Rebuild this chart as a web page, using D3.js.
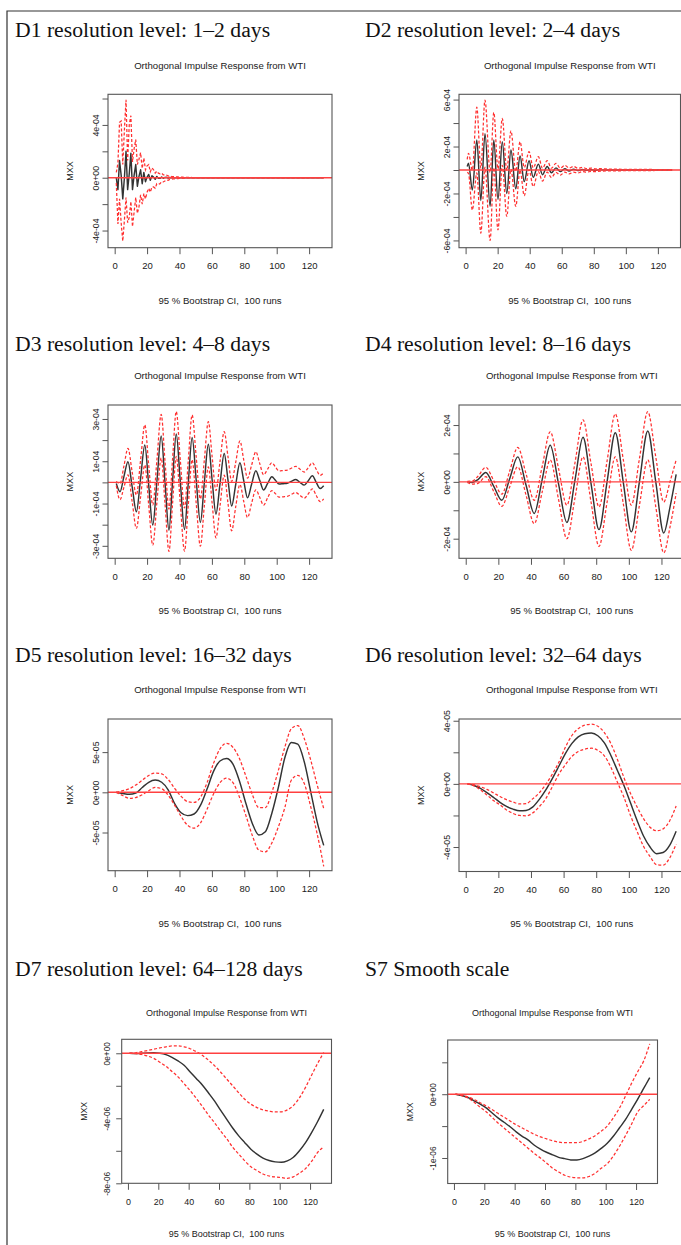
<!DOCTYPE html>
<html>
<head>
<meta charset="utf-8">
<script src="https://cdn.jsdelivr.net/npm/d3@7"></script>
<style>
  html, body { margin: 0; padding: 0; background: #fff; }
  svg { display: block; }
</style>
</head>
<body>
<svg id="chart" width="681" height="1245"></svg>
<script>
// ---------------- shared texts / ticks ----------------
const panelTitles = [
  "D1 resolution level: 1\u20132 days",
  "D2 resolution level: 2\u20134 days",
  "D3 resolution level: 4\u20138 days",
  "D4 resolution level: 8\u201316 days",
  "D5 resolution level: 16\u201332 days",
  "D6 resolution level: 32\u201364 days",
  "D7 resolution level: 64\u2013128 days",
  "S7 Smooth scale"
];
const subTitle = "Orthogonal Impulse Response from WTI";
const captionText = "95 % Bootstrap CI,  100 runs";
const yAxisLabel = "MXX";
const xTicks = [0, 20, 40, 60, 80, 100, 120];
const xTickLabels = ["0", "20", "40", "60", "80", "100", "120"];

// ---------------- D1 (values in 1e-4) ----------------
const d1Unit = 1e-4;
const d1Steps = d3.range(1, 51).concat([129]);
const d1Irf = [0.0, -0.9, 1.3, 0.2, -1.6, 0.0, 2.0, -0.9, 0.3, 1.85, -0.9, 0.2, 1.0, -0.65, 0.1, 0.6, -0.45, 0.4, -0.3, 0.05,
  0.25, -0.2, 0.15, 0.05, -0.12, 0.1, -0.05, -0.05, 0.06, -0.04, 0.02, 0.03, -0.03, 0.02, 0.0, 0.01, -0.01, 0.01, 0, 0,
  0, 0, 0, 0, 0, 0, 0, 0, 0, 0, 0];
const d1Upper = [0.4, 1.1, 4.2, 4.3, 1.0, 3.6, 5.9, 1.3, 4.0, 4.7, 1.2, 2.2, 2.9, 1.0, 1.4, 1.9, 0.7, 1.5, 0.6, 0.9,
  1.0, 0.45, 0.75, 0.6, 0.35, 0.5, 0.35, 0.3, 0.35, 0.22, 0.22, 0.2, 0.13, 0.15, 0.1, 0.09, 0.08, 0.06, 0.06, 0.05,
  0.04, 0.04, 0.03, 0.03, 0.02, 0.02, 0.02, 0.01, 0.01, 0.01, 0];
const d1Lower = [-0.4, -3.5, -1.6, -3.4, -4.8, -3.2, -1.5, -3.4, -3.0, -1.8, -3.7, -2.6, -1.5, -2.7, -2.2, -1.3, -2.0, -1.2, -1.6, -1.1,
  -0.8, -1.1, -0.7, -0.7, -0.8, -0.45, -0.5, -0.45, -0.3, -0.32, -0.25, -0.18, -0.2, -0.13, -0.12, -0.09, -0.08, -0.06, -0.06, -0.05,
  -0.04, -0.04, -0.03, -0.03, -0.02, -0.02, -0.02, -0.01, -0.01, -0.01, 0];
const d1YTicks = [-4, -2, 0, 2, 4, 6];
const d1YTickLabels = ["-4e-04", "", "0e+00", "", "4e-04", ""];

// ---------------- D2 (values in 1e-4) ----------------
const d2Unit = 1e-4;
const d2Steps = [1, 1.8, 4.2, 7.0, 9.5, 12.1, 15.3, 17.6, 20.2, 22.9, 25.7, 28.3, 31.3, 34.0, 36.6, 39.6, 42.2, 45.4, 48.0, 50.9,
  53.6, 56.4, 59.1, 61.9, 64.6, 67.4, 70.1, 72.9, 75.6, 78.4, 81.1, 84, 90, 100, 110, 120, 129];
const d2Irf = [0.30, 0.57, -1.70, 2.55, -2.60, 3.10, -3.10, 2.55, -2.50, 2.40, -2.00, 1.70, -1.60, 1.19, -0.99, 0.79, -0.62, 0.50, -0.40, 0.30,
  -0.24, 0.18, -0.14, 0.11, -0.08, 0.06, -0.05, 0.04, -0.03, 0.02, -0.02, 0.01, 0, 0, 0, 0, 0];
const d2Upper = [0.90, 1.42, 0.00, 5.35, 0.17, 5.95, -0.20, 4.90, 0.10, 4.40, -0.04, 3.34, -0.10, 2.40, 0.21, 1.56, 0.18, 1.13, 0.15, 0.79,
  0.16, 0.56, 0.16, 0.40, 0.17, 0.30, 0.15, 0.22, 0.12, 0.16, 0.10, 0.11, 0.08, 0.06, 0.05, 0.04, 0.03];
const d2Lower = [-0.20, -0.28, -3.40, -0.25, -5.37, 0.25, -6.00, 0.20, -5.10, 0.40, -3.96, 0.06, -3.10, -0.02, -2.19, 0.02, -1.42, -0.13, -0.95, -0.19,
  -0.64, -0.20, -0.44, -0.18, -0.33, -0.18, -0.25, -0.14, -0.18, -0.12, -0.14, -0.09, -0.08, -0.06, -0.05, -0.04, -0.03];
const d2YTicks = [-6, -4, -2, 0, 2, 4, 6];
const d2YTickLabels = ["-6e-04", "", "-2e-04", "", "2e-04", "", "6e-04"];

// ---------------- D3 (values in 1e-4) ----------------
const d3Unit = 1e-4;
const d3Steps = [1, 3.3, 5.7, 8.2, 10.8, 13.4, 16, 18.6, 21, 23.5, 26.1, 28.7, 31.1, 33.5, 35.7, 38, 40.5, 43.1, 45.4, 47.8,
  50.3, 52.9, 55.3, 57.8, 60.1, 62.5, 65, 67.6, 69.9, 72.2, 74.7, 77.3, 79.6, 82, 84.5, 87.1, 89.5, 91.9, 94.4, 97,
  99.2, 101.5, 104, 106.5, 109, 111.8, 114.4, 117, 119.5, 122, 124.4, 126.8, 129];
const d3Irf = [-0.05, -0.44, 0.27, 0.98, -0.21, -1.39, 0.19, 1.77, -0.13, -2.02, 0.09, 2.19, -0.04, -2.26, 0.02, 2.29, 0.03, -2.23, -0.05, 2.13,
  0.12, -1.90, -0.05, 1.80, 0.15, -1.50, -0.07, 1.37, 0.13, -1.12, -0.10, 0.93, 0.10, -0.73, -0.09, 0.55, 0.10, -0.36, -0.05, 0.27,
  0.10, -0.08, -0.06, -0.04, 0.05, 0.14, 0.00, -0.13, 0.08, 0.31, 0.00, -0.29, -0.16];
const d3Upper = [0.05, -0.06, 0.77, 1.61, 0.49, -0.60, 1.06, 2.72, 0.82, -1.07, 1.09, 3.22, 0.96, -1.26, 1.07, 3.35, 1.06, -1.21, 1.00, 3.19,
  1.22, -0.78, 1.03, 2.87, 1.25, -0.38, 0.98, 2.40, 1.23, 0.05, 0.95, 1.96, 1.08, 0.20, 0.81, 1.45, 0.90, 0.36, 0.63, 0.93,
  0.73, 0.54, 0.56, 0.58, 0.67, 0.76, 0.62, 0.49, 0.70, 0.93, 0.62, 0.33, 0.46];
const d3Lower = [-0.15, -0.82, -0.23, 0.35, -0.91, -2.18, -0.68, 0.82, -1.08, -2.97, -0.91, 1.16, -1.04, -3.26, -1.03, 1.23, -1.00, -3.25, -1.10, 1.07,
  -0.98, -3.02, -1.13, 0.73, -0.95, -2.62, -1.12, 0.34, -0.97, -2.29, -1.15, -0.10, -0.88, -1.66, -0.99, -0.35, -0.70, -1.08, -0.73, -0.39,
  -0.53, -0.70, -0.68, -0.66, -0.57, -0.48, -0.62, -0.75, -0.54, -0.31, -0.62, -0.91, -0.78];
const d3YTicks = [-3, -2, -1, 0, 1, 2, 3];
const d3YTickLabels = ["-3e-04", "", "-1e-04", "", "1e-04", "", "3e-04"];

// ---------------- D4 (values in 1e-4) ----------------
const d4Unit = 1e-4;
const d4Steps = [1, 4, 7.5, 12.3, 17.2, 22.1, 27, 31.9, 37, 42, 46.9, 51.8, 56.9, 62, 67, 71.9, 76.8, 81.7, 86.7, 91.7,
  96.6, 101.5, 106.5, 111.6, 116.5, 121.4, 125.2, 129];
const d4Irf = [0, -0.02, 0.08, 0.33, -0.16, -0.65, 0.12, 0.88, -0.12, -1.11, 0.09, 1.29, -0.07, -1.43, 0.07, 1.57, -0.05, -1.68, 0.02, 1.73,
  -0.02, -1.76, 0.01, 1.79, 0.00, -1.80, -0.90, 0.26];
const d4Upper = [0.02, 0.03, 0.2, 0.51, 0.04, -0.43, 0.39, 1.21, 0.28, -0.65, 0.55, 1.76, 0.47, -0.82, 0.68, 2.18, 0.65, -0.88, 0.75, 2.39,
  0.78, -0.82, 0.82, 2.47, 0.88, -0.71, 0.0, 0.77];
const d4Lower = [-0.02, -0.08, -0.05, 0.18, -0.34, -0.86, -0.17, 0.53, -0.47, -1.47, -0.35, 0.77, -0.62, -2.0, -0.56, 0.88, -0.70, -2.27, -0.70, 0.88,
  -0.77, -2.41, -0.82, 0.77, -0.87, -2.50, -1.6, -0.4];
const d4YTicks = [-2, -1, 0, 1, 2];
const d4YTickLabels = ["-2e-04", "", "0e+00", "", "2e-04"];

// ---------------- smooth panels: horizons read every 4 steps ----------------
const smoothSteps = d3.range(1, 130, 4);

// D5 (values in 1e-5)
const d5Unit = 1e-5;
const d5Irf = [0, -0.15, -0.25, -0.1, 0.6, 1.25, 1.52, 1.25, 0.3, -1.4, -2.55, -2.9, -2.7, -1.6, 0.4, 2.6, 3.9, 4.2, 3.5, 1.4,
  -1.4, -3.9, -5.3, -4.9, -2.6, 0.6, 4.3, 6.2, 6.0, 3.8, 0.05, -3.7, -6.6];
const d5Upper = [0, 0.2, 0.45, 0.9, 1.5, 2.1, 2.4, 2.3, 1.6, 0.5, -0.5, -1.15, -1.25, -0.6, 1.2, 3.6, 5.4, 6.1, 5.6, 4.2,
  2.0, -0.3, -1.9, -1.9, 0.0, 2.7, 5.6, 7.9, 8.3, 6.7, 4.0, 0.9, -2.0];
const d5Lower = [0, -0.4, -0.75, -0.65, -0.3, 0.2, 0.6, 0.45, -0.35, -1.6, -3.0, -4.1, -4.45, -3.8, -2.1, -0.2, 1.2, 1.75, 1.2, -0.6,
  -2.9, -5.4, -7.2, -7.4, -6.3, -4.3, -1.9, 1.5, 2.1, 1.1, -1.8, -5.2, -9.2];
const d5YTicks = [-5, 0, 5];
const d5YTickLabels = ["-5e-05", "0e+00", "5e-05"];

// D6 (values in 1e-5)
const d6Unit = 1e-5;
const d6Irf = [0, -0.1, -0.28, -0.55, -0.85, -1.17, -1.43, -1.6, -1.7, -1.68, -1.47, -1.0, -0.4, 0.32, 1.1, 1.9, 2.55, 2.98, 3.18, 3.22,
  3.05, 2.6, 1.8, 0.85, -0.1, -1.2, -2.3, -3.3, -4.0, -4.42, -4.35, -3.9, -3.0];
const d6Upper = [0, -0.05, -0.18, -0.35, -0.57, -0.8, -1.0, -1.15, -1.27, -1.25, -0.95, -0.58, -0.05, 0.6, 1.35, 2.3, 3.05, 3.5, 3.72, 3.78,
  3.65, 3.25, 2.55, 1.55, 0.4, -0.6, -1.45, -2.2, -2.75, -2.97, -2.85, -2.35, -1.4];
const d6Lower = [0, -0.12, -0.38, -0.7, -1.05, -1.33, -1.65, -1.87, -2.0, -2.02, -1.85, -1.45, -0.95, -0.2, 0.6, 1.2, 1.73, 2.05, 2.2, 2.26,
  2.12, 1.78, 1.05, 0.1, -0.85, -2.0, -3.0, -3.95, -4.6, -5.12, -5.15, -4.7, -3.8];
const d6YTicks = [-4, -2, 0, 2, 4];
const d6YTickLabels = ["-4e-05", "", "0e+00", "", "4e-05"];

// D7 (values in 1e-6)
const d7Unit = 1e-6;
const d7Irf = [0, -0.02, 0, 0.02, 0.03, 0, -0.08, -0.25, -0.47, -0.74, -1.15, -1.55, -1.95, -2.43, -2.93, -3.5, -4.05, -4.6, -5.08, -5.5,
  -5.9, -6.2, -6.45, -6.6, -6.68, -6.71, -6.62, -6.4, -6.0, -5.5, -4.88, -4.2, -3.45];
const d7Upper = [0, 0.03, 0.1, 0.17, 0.25, 0.33, 0.4, 0.45, 0.46, 0.4, 0.28, 0.1, -0.12, -0.42, -0.76, -1.15, -1.58, -2.0, -2.43, -2.83,
  -3.13, -3.34, -3.48, -3.56, -3.61, -3.6, -3.48, -3.22, -2.74, -2.1, -1.35, -0.62, 0.05];
const d7Lower = [0, -0.02, -0.07, -0.17, -0.31, -0.55, -0.8, -1.12, -1.45, -1.87, -2.3, -2.77, -3.27, -3.8, -4.27, -4.78, -5.25, -5.78, -6.2, -6.62,
  -6.98, -7.22, -7.43, -7.55, -7.61, -7.65, -7.69, -7.6, -7.38, -7.1, -6.65, -6.1, -5.75];
const d7YTicks = [-8, -6, -4, -2, 0];
const d7YTickLabels = ["-8e-06", "", "-4e-06", "", "0e+00"];

// S7 (values in 1e-6)
const s7Unit = 1e-6;
const s7Irf = [0, -0.02, -0.05, -0.1, -0.15, -0.21, -0.29, -0.37, -0.44, -0.51, -0.59, -0.66, -0.72, -0.8, -0.86, -0.91, -0.95, -0.99, -1.01, -1.03,
  -1.03, -1.01, -0.97, -0.92, -0.85, -0.77, -0.66, -0.53, -0.4, -0.24, -0.08, 0.09, 0.26];
const s7Upper = [0, -0.02, -0.04, -0.08, -0.13, -0.18, -0.24, -0.3, -0.36, -0.42, -0.48, -0.53, -0.58, -0.63, -0.67, -0.7, -0.73, -0.75, -0.76, -0.76,
  -0.76, -0.74, -0.7, -0.65, -0.58, -0.5, -0.37, -0.22, -0.03, 0.17, 0.35, 0.52, 0.79];
const s7Lower = [0, -0.02, -0.06, -0.12, -0.2, -0.27, -0.36, -0.45, -0.53, -0.61, -0.69, -0.77, -0.85, -0.93, -1.0, -1.08, -1.16, -1.22, -1.27, -1.3,
  -1.31, -1.31, -1.29, -1.24, -1.16, -1.09, -0.97, -0.82, -0.65, -0.47, -0.28, -0.18, -0.08];
const s7YTicks = [-1, -0.5, 0, 0.5];
const s7YTickLabels = ["-1e-06", "", "0e+00", ""];

// ---------------- panel configuration (layout) ----------------
const xDomain = [-4.12, 134.12]; // R default 4% expansion of horizons 1..129
const rowTitleY = [36.5, 350.7, 661.7, 975.5];
const rowSubY = [68.5, 378.5, 693.3, 1015.7];
const rowCapY = [303.7, 613.7, 926.7, 1237.3];
const colTitleX = [15, 365];

const panels = [
  { title: panelTitles[0], unit: d1Unit, steps: d1Steps, irf: d1Irf, lower: d1Lower, upper: d1Upper, yTicks: d1YTicks, yLabels: d1YTickLabels,
    yDomain: [-5.30, 6.32], curve: d3.curveLinear, box: [108, 332, 94.3, 247.7], row: 0, col: 0, small: false },
  { title: panelTitles[1], unit: d2Unit, steps: d2Steps, irf: d2Irf, lower: d2Lower, upper: d2Upper, yTicks: d2YTicks, yLabels: d2YTickLabels,
    yDomain: [-6.62, 6.45], curve: d3.curveMonotoneX, box: [459, 680.5, 94.3, 247.7], row: 0, col: 1, small: false },
  { title: panelTitles[2], unit: d3Unit, steps: d3Steps, irf: d3Irf, lower: d3Lower, upper: d3Upper, yTicks: d3YTicks, yLabels: d3YTickLabels,
    yDomain: [-3.59, 3.66], curve: d3.curveMonotoneX, box: [108, 332, 405, 558.3], row: 1, col: 0, small: false },
  { title: panelTitles[3], unit: d4Unit, steps: d4Steps, irf: d4Irf, lower: d4Lower, upper: d4Upper, yTicks: d4YTicks, yLabels: d4YTickLabels,
    yDomain: [-2.69, 2.705], curve: d3.curveMonotoneX, box: [459, 684.5, 405, 558.3], row: 1, col: 1, small: false },
  { title: panelTitles[4], unit: d5Unit, steps: smoothSteps, irf: d5Irf, lower: d5Lower, upper: d5Upper, yTicks: d5YTicks, yLabels: d5YTickLabels,
    yDomain: [-9.75, 9.12], curve: d3.curveMonotoneX, box: [108, 332, 719, 870.7], row: 2, col: 0, small: false },
  { title: panelTitles[5], unit: d6Unit, steps: smoothSteps, irf: d6Irf, lower: d6Lower, upper: d6Upper, yTicks: d6YTicks, yLabels: d6YTickLabels,
    yDomain: [-5.55, 4.11], curve: d3.curveMonotoneX, box: [459, 684.5, 719, 871.5], row: 2, col: 1, small: false },
  { title: panelTitles[6], unit: d7Unit, steps: smoothSteps, irf: d7Irf, lower: d7Lower, upper: d7Upper, yTicks: d7YTicks, yLabels: d7YTickLabels,
    yDomain: [-8.0, 0.86], curve: d3.curveMonotoneX, box: [121.7, 331.5, 1039.3, 1183.3], row: 3, col: 0, small: true },
  { title: panelTitles[7], unit: s7Unit, steps: smoothSteps, irf: s7Irf, lower: s7Lower, upper: s7Upper, yTicks: s7YTicks, yLabels: s7YTickLabels,
    yDomain: [-1.40, 0.85], curve: d3.curveMonotoneX, box: [447.7, 657.5, 1040, 1183.5], row: 3, col: 1, small: true }
];

// ---------------- drawing ----------------
const svg = d3.select("#chart");
const SANS = "'Liberation Sans', Arial, Helvetica, sans-serif";
const SERIF = "'Liberation Serif', 'Times New Roman', Times, serif";

// outer frame of the figure (top and left edges visible)
svg.append("path")
  .attr("d", d3.line()([[7, 1245], [7, 11], [681, 11]]))
  .attr("fill", "none").attr("stroke", "#333").attr("stroke-width", 1.2);

const defs = svg.append("defs");

panels.forEach((p, k) => {
  const [bx0, bx1, by0, by1] = p.box;
  const g = svg.append("g");
  const x = d3.scaleLinear().domain(xDomain).range([bx0, bx1]);
  const y = d3.scaleLinear().domain(p.yDomain.map(v => v * p.unit)).range([by1, by0]);

  defs.append("clipPath").attr("id", "clip" + k)
    .append("rect").attr("x", bx0).attr("y", by0).attr("width", bx1 - bx0).attr("height", by1 - by0);

  const line = d3.line().x(d => x(d[0])).y(d => y(d[1])).curve(p.curve);
  const series = arr => p.steps.map((t, i) => [t, arr[i] * p.unit]);

  const plot = g.append("g").attr("clip-path", `url(#clip${k})`);
  plot.append("path").attr("d", line(series(p.irf)))
    .attr("fill", "none").attr("stroke", "#333").attr("stroke-width", 1.45).attr("stroke-linejoin", "round");
  [p.lower, p.upper].forEach(arr => {
    plot.append("path").attr("d", line(series(arr)))
      .attr("fill", "none").attr("stroke", "#ff3030").attr("stroke-width", 1.25)
      .attr("stroke-dasharray", "3,2");
  });
  // zero reference line (abline h = 0)
  plot.append("path")
    .attr("d", d3.line().x(d => x(d[0])).y(d => y(d[1]))([[xDomain[0], 0], [xDomain[1], 0]]))
    .attr("stroke", "#ff4040").attr("stroke-width", 1.4).attr("fill", "none");

  // box
  g.append("rect").attr("x", bx0).attr("y", by0).attr("width", bx1 - bx0).attr("height", by1 - by0)
    .attr("fill", "none").attr("stroke", "#555").attr("stroke-width", 1.1);

  const small = p.small;
  const tickFs = small ? 8.9 : 9.5;
  const vertFs = small ? 8.3 : 8.7;
  const textFs = small ? 9.0 : 9.6;

  // x axis
  const xa = g.append("g").attr("transform", `translate(0,${by1})`)
    .call(d3.axisBottom(x).tickValues(xTicks).tickSize(6.5).tickFormat((d, i) => xTickLabels[i]));
  xa.select(".domain").remove();
  xa.attr("font-family", SANS).attr("font-size", tickFs);
  xa.selectAll(".tick line").attr("stroke", "#555");
  xa.selectAll(".tick text").attr("y", 21.5).attr("dy", null).attr("fill", "#1a1a1a");

  // y axis
  const yOff = small ? 11.5 : 9;
  const ya = g.append("g").attr("transform", `translate(${bx0},0)`)
    .call(d3.axisLeft(y).tickValues(p.yTicks.map(v => v * p.unit)).tickSize(5.5).tickFormat((d, i) => p.yLabels[i]));
  ya.select(".domain").remove();
  ya.attr("font-family", SANS).attr("font-size", vertFs);
  ya.selectAll(".tick line").attr("stroke", "#555");
  ya.selectAll(".tick text")
    .attr("x", null).attr("dy", null).attr("text-anchor", "middle").attr("fill", "#1a1a1a")
    .attr("transform", `translate(${-yOff},0) rotate(-90)`);

  // y axis title
  g.append("text")
    .attr("transform", `translate(${bx0 - 35},${(by0 + by1) / 2}) rotate(-90)`)
    .attr("text-anchor", "middle").attr("font-family", SANS).attr("font-size", small ? 8.7 : 9.1)
    .attr("fill", "#1a1a1a").text(yAxisLabel);

  // plot title and sub caption (centered on the plot box)
  const cx = (bx0 + bx1) / 2;
  g.append("text").attr("x", cx).attr("y", rowSubY[p.row]).attr("text-anchor", "middle")
    .attr("font-family", SANS).attr("font-size", textFs).attr("fill", "#1a1a1a").text(subTitle);
  g.append("text").attr("x", cx).attr("y", rowCapY[p.row]).attr("text-anchor", "middle")
    .attr("font-family", SANS).attr("font-size", textFs).attr("fill", "#1a1a1a")
    .style("white-space", "pre").text(captionText);

  // panel heading (serif)
  const t = g.append("text").attr("x", colTitleX[p.col]).attr("y", rowTitleY[p.row])
    .attr("font-family", SERIF).attr("font-size", 20).attr("fill", "#111").text(p.title);
  const len = t.node().getComputedTextLength();
  t.attr("textLength", len * 1.083).attr("lengthAdjust", "spacingAndGlyphs");
});
</script>
</body>
</html>
